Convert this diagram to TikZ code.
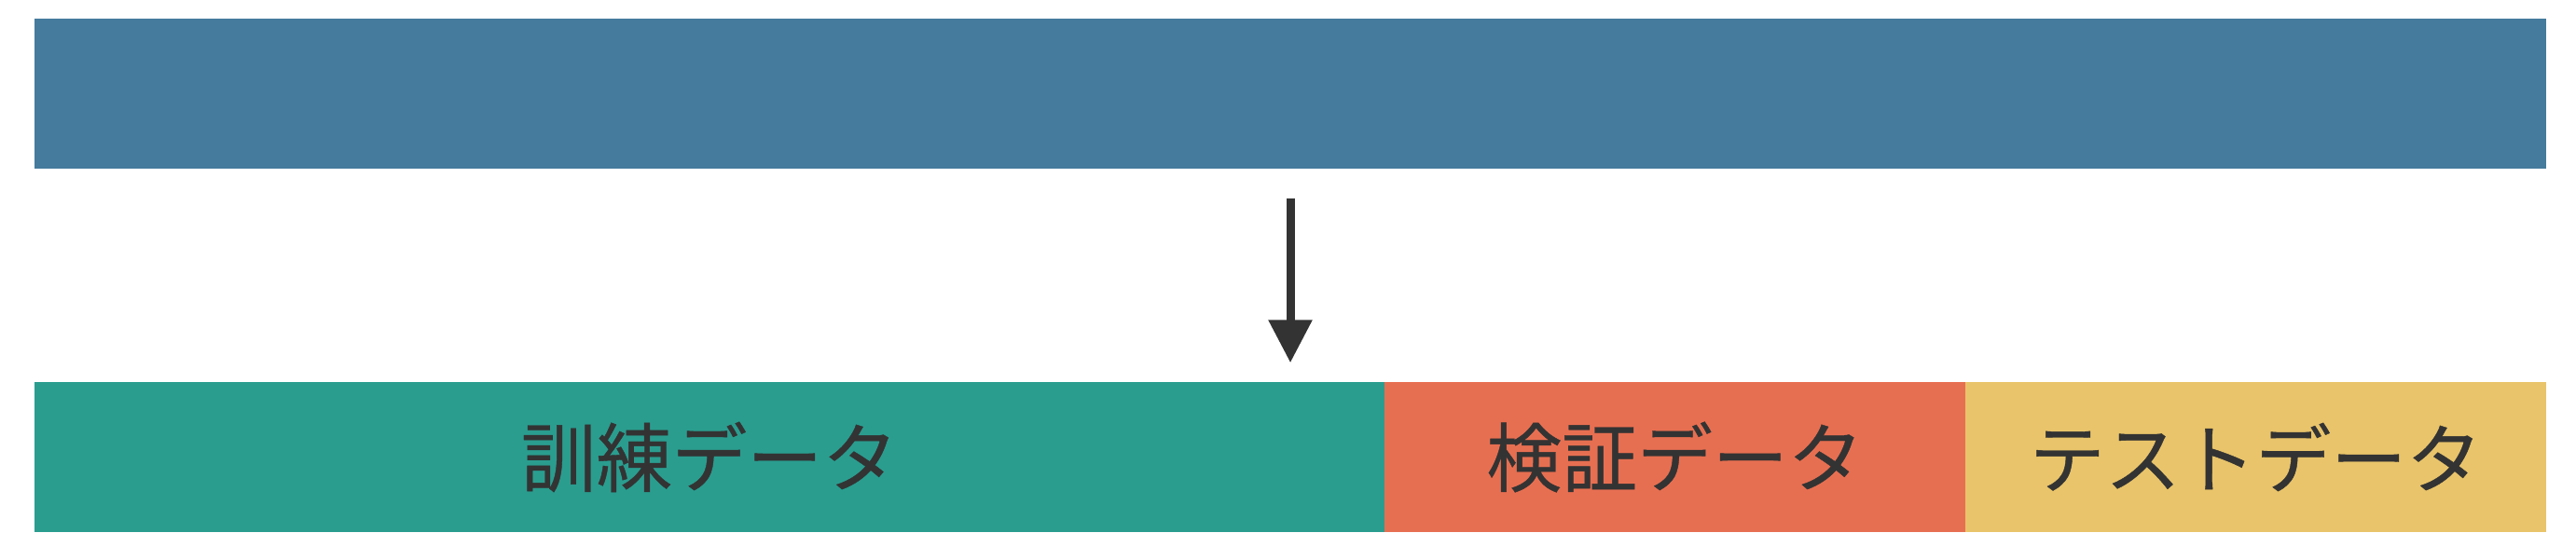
\documentclass[tikz,border=0pt]{standalone}
\usepackage{fontspec}
\newfontfamily\jpfont[FakeBold=0.5]{Noto Sans CJK JP}
\usepackage{tikz}
\usetikzlibrary{arrows.meta}

\definecolor{allblue}{HTML}{457B9D}
\definecolor{traingreen}{HTML}{2A9D8F}
\definecolor{valorange}{HTML}{E76F51}
\definecolor{testyellow}{HTML}{E9C46A}
\definecolor{inkgray}{HTML}{333333}

\begin{document}
\begin{tikzpicture}[
    bar/.style={rectangle, inner sep=0pt, minimum height=1.61cm, text=inkgray, font=\jpfont\fontsize{23}{23}\selectfont}
  ]
                    \useasboundingbox (0,0) rectangle (27.63,6);
                    % Nodes
                    \node[bar, fill=allblue, minimum width=26.94cm] (all) at (13.84,4.995) {};
                    \node[bar, fill=traingreen, minimum width=14.48cm] (train) at (7.61,1.095) {訓練データ};
                    \node[bar, fill=valorange, minimum width=6.23cm] (val) at (17.965,1.095) {検証データ};
                    \node[bar, fill=testyellow, minimum width=6.23cm] (test) at (24.195,1.095) {テストデータ};
                    % Edges
                    \draw[-{Triangle[width=0.45cm, length=0.46cm]}, line width=0.09cm, inkgray,
                          shorten <=0.31cm, shorten >=0.2cm] (all.south) -- (all.south |- train.north);
                \end{tikzpicture}
\end{document}
